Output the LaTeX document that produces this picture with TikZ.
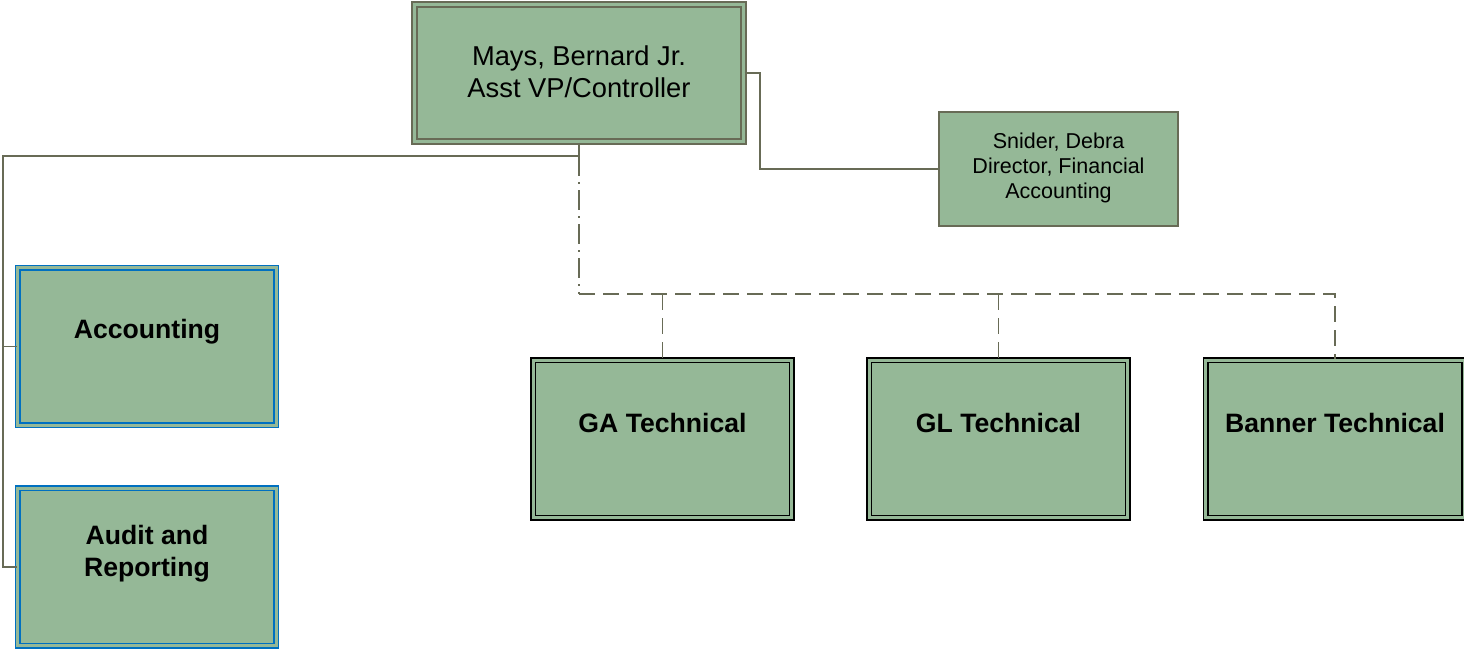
\documentclass[tikz,border=0pt]{standalone}
\usepackage{fontspec}
\setmainfont{Liberation Sans}
\begin{document}
\begin{tikzpicture}[x=1pt,y=-1pt,
  boxfill/.style={fill=boxgreen},
  mgrbox/.style={boxfill,draw=lineol,line width=1.8pt,double=boxgreen,double distance=3pt,inner sep=0pt},
  deptbox/.style={boxfill,draw=deptblue,line width=1.7pt,double=boxgreen,double distance=3pt,inner sep=0pt,minimum width=258.5pt,minimum height=157.5pt},
  techbox/.style={boxfill,draw=black,line width=1.8pt,double=boxgreen,double distance=2.6pt,inner sep=0pt,minimum width=258.5pt,minimum height=157.5pt},
  plainbox/.style={boxfill,draw=lineol,line width=1.6pt,inner sep=0pt},
  conn/.style={draw=lineol,line width=1.6pt},
  dashconn/.style={conn,dash pattern=on 16pt off 8pt},
  dashdotconn/.style={conn,dash pattern=on 20pt off 6pt on 2pt off 6pt},
  mgrtext/.style={align=center,font=\fontsize{27.3}{32.5}\selectfont,inner sep=0pt},
  smalltext/.style={align=center,font=\fontsize{21.5}{25}\selectfont,inner sep=0pt},
  boldtext/.style={align=center,font=\fontsize{26.6}{32}\selectfont\bfseries,inner sep=0pt}
]
\definecolor{boxgreen}{RGB}{149,184,151}
\definecolor{lineol}{RGB}{104,107,86}
\definecolor{deptblue}{RGB}{0,112,192}
\useasboundingbox (0,0) rectangle (1464,648);

% boxes
\node[mgrbox,minimum width=329.5pt,minimum height=137.5pt] (mays) at (579,73) {};
\node[mgrtext] (maystext) at (579,71.5) {Mays, Bernard Jr.\\Asst VP/Controller};

\node[plainbox,minimum width=239.5pt,minimum height=114.5pt] (snider) at (1058.5,169) {};
\node[smalltext] (snidertext) at (1058.5,167.7) {Snider, Debra\\Director, Financial\\Accounting};

\node[deptbox] (acc) at (147,346.5) {};
\node[boldtext] (acctext) at (147,331.5) {Accounting};

\node[deptbox] (audit) at (147,567) {};
\node[boldtext] (audittext) at (147,553.5) {Audit and\\Reporting};

\node[techbox] (ga) at (662.5,439) {};
\node[boldtext] (gatext) at (662.5,422.5) {GA Technical};

\node[techbox] (gl) at (998.5,439) {};
\node[boldtext] (gltext) at (998.5,422.5) {GL Technical};

\node[techbox] (banner) at (1335,439) {};
\node[boldtext] (bannertext) at (1335,422.5) {Banner Technical};

% coordinates
\coordinate (rj) at (760,73);
\coordinate (bj) at (579,156);
\coordinate (lv) at (3,156);
\coordinate (dj) at (579,294);
\coordinate (gaj) at (662.5,294);
\coordinate (glj) at (998.5,294);
\coordinate (bnj) at (1335,294);

% connectors
\draw[conn] (mays.east) -- (rj) |- (snider.west);
\draw[conn] (mays.south) -- (bj) -- (lv) |- (audit.west);
\draw[conn] (lv |- acc.west) -- (acc.west);
\draw[dashdotconn] (bj) -- (dj);
\draw[dashconn] (dj) -- (bnj) -- (banner.north);
\draw[dashconn] (gaj) -- (ga.north);
\draw[dashconn] (glj) -- (gl.north);
\end{tikzpicture}
\end{document}
